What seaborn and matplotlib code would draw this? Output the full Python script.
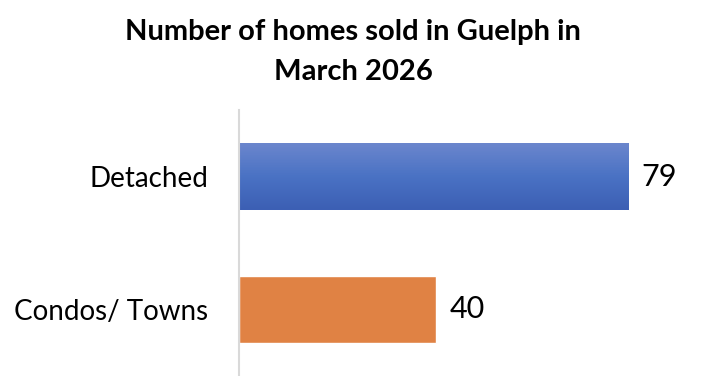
import matplotlib
matplotlib.use("Agg")
import matplotlib.pyplot as plt
import seaborn as sns
import numpy as np
import pandas as pd
from matplotlib.colors import LinearSegmentedColormap

categories = ["Detached", "Condos/ Towns"]
values = [79, 40]
colors = ["#4472c4", "#e08244"]
title = "Number of homes sold in Guelph in\nMarch 2026"

sns.set_theme(style="white")
plt.rcParams['font.family'] = ['Lato', 'DejaVu Sans']

df = pd.DataFrame({"cat": categories, "val": values})

fig = plt.figure(figsize=(7.06, 3.76), dpi=100)
ax = fig.add_axes([239/706, 0, (706-239)/706, 266/376])
sns.barplot(data=df, y="cat", x="val", hue="cat", palette=colors, width=0.5,
            orient="h", ax=ax, legend=False, saturation=1)

ax.set_xlim(0, 94.6)
ax.set_ylim(1.5, -0.5)
ax.set_xlabel("")
ax.set_ylabel("")
ax.set_xticks([])
for s in ["top", "right", "bottom"]:
    ax.spines[s].set_visible(False)
ax.spines["left"].set_color("#d9d9d9")
ax.spines["left"].set_linewidth(1.5)
ax.tick_params(axis="y", length=0, pad=22, labelsize=20, labelcolor="black")

# gradient on the first bar
patch = ax.patches[0]
x0, y0 = patch.get_x(), patch.get_y()
w, h = patch.get_width(), patch.get_height()
cmap = LinearSegmentedColormap.from_list("g", ["#6b86cd", "#4a72c4", "#3c5fb4"])
grad = np.linspace(0, 1, 100).reshape(-1, 1)
im = ax.imshow(grad, cmap=cmap, aspect="auto", extent=[x0, x0 + w, y0 + h, y0],
               origin="upper", zorder=patch.get_zorder() + 0.1)
im.set_clip_path(patch)
ax.set_xlim(0, 94.6)
ax.set_ylim(1.5, -0.5)

for p, v in zip(ax.patches, values):
    ax.text(p.get_x() + p.get_width() + 2.6, p.get_y() + p.get_height() / 2, str(v),
            va="center", ha="left", fontsize=22, color="black")

fig.text(0.5, 0.95, title, ha="center", va="top", fontsize=21, fontweight="bold",
         color="black", linespacing=1.7)

fig.savefig("out.png", dpi=100)
